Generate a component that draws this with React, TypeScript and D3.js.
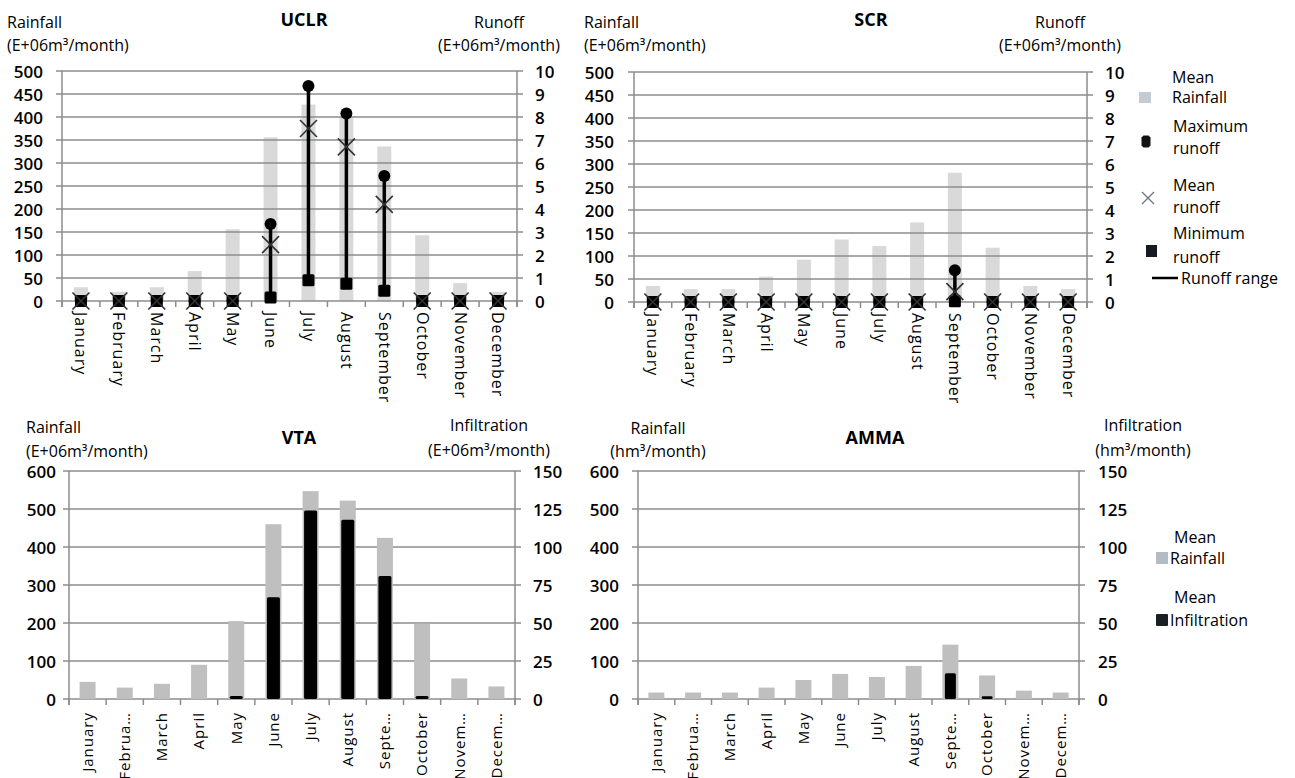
import React from "react";
import * as d3 from "d3";

const FONT = "'Open Sans', sans-serif";

const months = ["January", "February", "March", "April", "May", "June", "July", "August", "September", "October", "November", "December"];
const monthsShort = ["January", "Februa…", "March", "April", "May", "June", "July", "August", "Septe…", "October", "Novem…", "Decem…"];

// top row: rainfall (left axis) and runoff (right axis)
const uclrRainfall = [30, 20, 30, 65, 156, 356, 427, 400, 336, 143, 39, 20];
const uclrRunoffMax = [0, 0, 0, 0, 0, 3.35, 9.35, 8.15, 5.43, 0, 0, 0];
const uclrRunoffMean = [0, 0, 0, 0, 0, 2.45, 7.5, 6.7, 4.2, 0, 0, 0];
const uclrRunoffMin = [0, 0, 0, 0, 0, 0.15, 0.9, 0.75, 0.45, 0, 0, 0];

const scrRainfall = [35, 28, 28, 55, 92, 136, 122, 173, 281, 118, 35, 28];
const scrRunoffMax = [0, 0, 0, 0, 0, 0, 0, 0, 1.38, 0, 0, 0];
const scrRunoffMean = [0, 0, 0, 0, 0, 0, 0, 0, 0.45, 0, 0, 0];
const scrRunoffMin = [0, 0, 0, 0, 0, 0, 0, 0, 0.03, 0, 0, 0];

// bottom row: rainfall (left axis) and infiltration (right axis)
const vtaRainfall = [45, 30, 40, 90, 205, 460, 547, 522, 424, 198, 54, 33];
const vtaInfiltration = [0, 0, 0, 0, 2, 67, 124, 118, 81, 2, 0, 0];

const ammaRainfall = [17, 17, 17, 30, 50, 66, 58, 87, 143, 62, 22, 17];
const ammaInfiltration = [0, 0, 0, 0, 0, 0, 0, 0, 17, 1.8, 0, 0];

const runoffTicksLeft = d3.range(0, 501, 50);
const runoffTicksRight = d3.range(0, 11, 1);
const infilTicksLeft = d3.range(0, 601, 100);
const infilTicksRight = d3.range(0, 151, 25);

const GRID = "#8c8c8c";

function Frame({ box, x, yL, yR, ticksL, ticksR, labelL, labelR, labels, rotateDown }) {
  const n = x.domain().length;
  const step = x.step();
  return (
    <g>
      {ticksL.map((t) => (
        <g key={"l" + t}>
          <line x1={box.x0 - 6} x2={box.x1} y1={yL(t)} y2={yL(t)} stroke={GRID} strokeWidth={1.5} />
          <text x={labelL} y={yL(t)} textAnchor="end" dominantBaseline="central" fontSize={17} fontWeight={600} fontFamily={FONT}>{t}</text>
        </g>
      ))}
      {ticksR.map((t) => (
        <g key={"r" + t}>
          <line x1={box.x1} x2={box.x1 + 6} y1={yR(t)} y2={yR(t)} stroke={GRID} strokeWidth={1.5} />
          <text x={labelR} y={yR(t)} dominantBaseline="central" fontSize={17} fontWeight={600} fontFamily={FONT}>{t}</text>
        </g>
      ))}
      <line x1={box.x0} x2={box.x0} y1={box.y0} y2={box.y1 + 6} stroke={GRID} strokeWidth={1.5} />
      <line x1={box.x1} x2={box.x1} y1={box.y0} y2={box.y1 + 6} stroke={GRID} strokeWidth={1.5} />
      {d3.range(n + 1).map((i) => (
        <line key={"t" + i} x1={box.x0 + i * step} x2={box.x0 + i * step} y1={box.y1} y2={box.y1 + 6} stroke={GRID} strokeWidth={1.5} />
      ))}
      {labels.map((m, i) => {
        const cx = x(months[i]) + x.bandwidth() / 2;
        return rotateDown ? (
          <text key={m} transform={`translate(${cx},${box.y1 + 11}) rotate(90)`} dy="0.35em" fontSize={16} letterSpacing={1} fontFamily={FONT}>{m}</text>
        ) : (
          <text key={m} transform={`translate(${cx},${box.y1 + 13}) rotate(-90)`} dy="0.35em" textAnchor="end" fontSize={15} letterSpacing={1} fontFamily={FONT}>{m}</text>
        );
      })}
    </g>
  );
}

function Titles({ title, tx, ty, left, right }) {
  return (
    <g fontFamily={FONT}>
      <text x={tx} y={ty} textAnchor="middle" dominantBaseline="central" fontSize={18} fontWeight={700}>{title}</text>
      {[left, right].map((a, k) =>
        a.lines.map((s, j) => (
          <text key={k + "-" + j} x={a.x} y={a.y[j]} textAnchor={a.anchor[j]} dominantBaseline="central" fontSize={16}>{s}</text>
        ))
      )}
    </g>
  );
}

function RunoffPanel({ box, title, tx, rainfall, rMax, rMean, rMin, left, right, labelL, labelR }) {
  const x = d3.scaleBand().domain(months).range([box.x0, box.x1]).paddingInner(0).paddingOuter(0);
  const yL = d3.scaleLinear().domain([0, 500]).range([box.y1, box.y0]);
  const yR = d3.scaleLinear().domain([0, 10]).range([box.y1, box.y0]);
  const bw = 14;
  return (
    <g>
      {rainfall.map((v, i) => {
        const cx = x(months[i]) + x.bandwidth() / 2;
        return <rect key={i} x={cx - bw / 2} y={yL(v)} width={bw} height={yL(0) - yL(v)} fill="#d9d9d9" />;
      })}
      <Frame box={box} x={x} yL={yL} yR={yR} ticksL={runoffTicksLeft} ticksR={runoffTicksRight} labelL={labelL} labelR={labelR} labels={months} rotateDown={true} />
      {months.map((m, i) => {
        const cx = x(m) + x.bandwidth() / 2;
        const yMax = yR(rMax[i]);
        const yMean = yR(rMean[i]);
        const yMin = yR(rMin[i]);
        return (
          <g key={m}>
            {rMax[i] > rMin[i] && <line x1={cx} x2={cx} y1={yMax} y2={yMin} stroke="#000" strokeWidth={3.5} />}
            <circle cx={cx} cy={yMax} r={6} fill="#000" />
            <rect x={cx - 6} y={yMin - 6} width={12} height={12} rx={1.5} fill="#000" />
            <path d={`M${cx - 8.5},${yMean - 8.5}L${cx + 8.5},${yMean + 8.5}M${cx + 8.5},${yMean - 8.5}L${cx - 8.5},${yMean + 8.5}`} stroke="#2e3338" strokeWidth={1.6} />
          </g>
        );
      })}
      <Titles title={title} tx={tx} ty={19} left={left} right={right} />
    </g>
  );
}

function InfilPanel({ box, title, tx, rainfall, infil, left, right, labelL, labelR, bw, iw }) {
  const x = d3.scaleBand().domain(months).range([box.x0, box.x1]);
  const yL = d3.scaleLinear().domain([0, 600]).range([box.y1, box.y0]);
  const yR = d3.scaleLinear().domain([0, 150]).range([box.y1, box.y0]);
  return (
    <g>
      <Frame box={box} x={x} yL={yL} yR={yR} ticksL={infilTicksLeft} ticksR={infilTicksRight} labelL={labelL} labelR={labelR} labels={monthsShort} rotateDown={false} />
      {rainfall.map((v, i) => {
        const cx = x(months[i]) + x.bandwidth() / 2;
        return <rect key={"r" + i} x={cx - bw / 2} y={yL(v)} width={bw} height={yL(0) - yL(v)} fill="#bfbfbf" />;
      })}
      {infil.map((v, i) => {
        if (v <= 0) return null;
        const cx = x(months[i]) + x.bandwidth() / 2;
        return <rect key={"i" + i} x={cx - iw / 2} y={yR(v)} width={iw} height={Math.max(yR(0) - yR(v), 2)} rx={1.5} fill="#000" />;
      })}
      <Titles title={title} tx={tx} ty={437} left={left} right={right} />
    </g>
  );
}

function RunoffLegend() {
  const t = (x, y, s) => <text x={x} y={y} dominantBaseline="central" fontSize={16} fontFamily={FONT}>{s}</text>;
  return (
    <g>
      <rect x={1139} y={92} width={12} height={11} fill="#c4ccd3" />
      {t(1172, 77, "Mean")}
      {t(1172, 97, "Rainfall")}
      <path d="M1141.5,137.5 L1143.5,135.5 L1148.5,135.5 L1150.5,137.5 L1150.5,145.5 L1148.5,147.5 L1143.5,147.5 L1141.5,145.5 Z" fill="#111" />
      {t(1173, 126, "Maximum")}
      {t(1173, 148, "runoff")}
      <path d="M1142,192L1154,204M1154,192L1142,204" stroke="#6a7986" strokeWidth={1.4} />
      {t(1173, 185, "Mean")}
      {t(1173, 207, "runoff")}
      <rect x={1146} y={245} width={11} height={12} fill="#151b20" />
      {t(1173, 233, "Minimum")}
      {t(1173, 257, "runoff")}
      <line x1={1152} x2={1178} y1={278} y2={278} stroke="#000" strokeWidth={2.5} />
      {t(1181, 278, "Runoff range")}
    </g>
  );
}

function InfilLegend() {
  const t = (x, y, s) => <text x={x} y={y} dominantBaseline="central" fontSize={16} fontFamily={FONT}>{s}</text>;
  return (
    <g>
      {t(1174, 537, "Mean")}
      <rect x={1156} y={552} width={12} height={12} fill="#b3bcc4" />
      {t(1170, 558, "Rainfall")}
      {t(1174, 597, "Mean")}
      <rect x={1156} y={614} width={12} height={12} rx={1} fill="#182026" />
      {t(1170, 620, "Infiltration")}
    </g>
  );
}

export default function App() {
  const unitE = "(E+06m³/month)";
  const unitH = "(hm³/month)";
  return (
    <svg width={1295} height={778} style={{ position: "absolute", left: 0, top: 0, background: "#fff" }}>
      <RunoffPanel
        box={{ x0: 62, x1: 517, y0: 71, y1: 301 }}
        title="UCLR" tx={304}
        rainfall={uclrRainfall} rMax={uclrRunoffMax} rMean={uclrRunoffMean} rMin={uclrRunoffMin}
        labelL={43} labelR={535}
        left={{ x: 7, y: [22, 45], anchor: ["start", "start"], lines: ["Rainfall", unitE] }}
        right={{ x: 499, y: [22, 45], anchor: ["middle", "middle"], lines: ["Runoff", unitE] }}
      />
      <RunoffPanel
        box={{ x0: 634, x1: 1087, y0: 72, y1: 302 }}
        title="SCR" tx={871}
        rainfall={scrRainfall} rMax={scrRunoffMax} rMean={scrRunoffMean} rMin={scrRunoffMin}
        labelL={614} labelR={1105}
        left={{ x: 584, y: [22, 45], anchor: ["start", "start"], lines: ["Rainfall", unitE] }}
        right={{ x: 1060, y: [22, 45], anchor: ["middle", "middle"], lines: ["Runoff", unitE] }}
      />
      <InfilPanel
        box={{ x0: 69, x1: 515, y0: 471, y1: 699 }}
        title="VTA" tx={299}
        rainfall={vtaRainfall} infil={vtaInfiltration} bw={16} iw={13}
        labelL={56} labelR={533}
        left={{ x: 26, y: [427, 451], anchor: ["start", "start"], lines: ["Rainfall", unitE] }}
        right={{ x: 489, y: [425, 450], anchor: ["middle", "middle"], lines: ["Infiltration", unitE] }}
      />
      <InfilPanel
        box={{ x0: 638, x1: 1079, y0: 471, y1: 699 }}
        title="AMMA" tx={875}
        rainfall={ammaRainfall} infil={ammaInfiltration} bw={16} iw={11}
        labelL={619} labelR={1098}
        left={{ x: 658, y: [428, 451], anchor: ["middle", "middle"], lines: ["Rainfall", unitH] }}
        right={{ x: 1143, y: [425, 450], anchor: ["middle", "middle"], lines: ["Infiltration", unitH] }}
      />
      <RunoffLegend />
      <InfilLegend />
    </svg>
  );
}
